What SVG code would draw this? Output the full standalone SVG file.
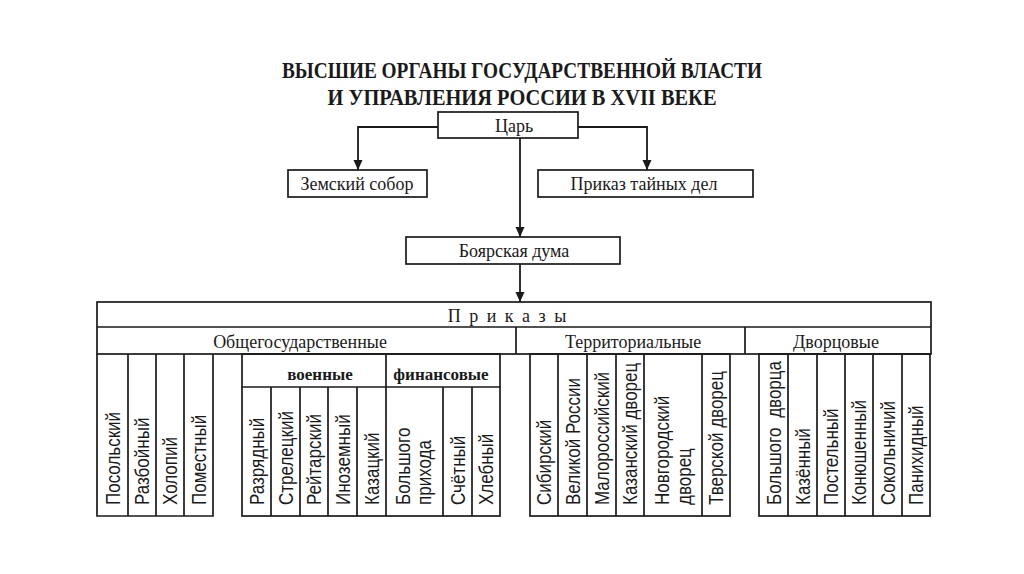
<svg xmlns="http://www.w3.org/2000/svg" width="1024" height="574" viewBox="0 0 1024 574">
<style>
.bx{fill:none;stroke:#1a1a1a;stroke-width:1.7}
.ln{fill:none;stroke:#1a1a1a;stroke-width:1.7}
.cn{fill:none;stroke:#1a1a1a;stroke-width:1.8}
.t{font-family:"Liberation Serif","Times New Roman",serif;font-size:18px;fill:#1a1a1a;text-anchor:middle}
.tb{font-family:"Liberation Serif","Times New Roman",serif;font-size:17px;font-weight:bold;fill:#1a1a1a;text-anchor:middle}
.ttl{font-family:"Liberation Serif","Times New Roman",serif;font-size:24px;font-weight:bold;fill:#1a1a1a;text-anchor:middle}
.v{font-family:"Liberation Sans",Arial,sans-serif;font-size:20px;fill:#1a1a1a;dominant-baseline:central}
</style>
<defs>
<marker id="arr" markerUnits="userSpaceOnUse" markerWidth="10" markerHeight="11" refX="10" refY="5" orient="auto" viewBox="0 0 10 10">
<path d="M0,0.5 L10,5 L0,9.5 Z" fill="#1a1a1a"/>
</marker>
</defs>
<rect width="1024" height="574" fill="#ffffff"/>

<g id="title">
<text class="ttl" x="522" y="78" textLength="480" lengthAdjust="spacingAndGlyphs">ВЫСШИЕ ОРГАНЫ ГОСУДАРСТВЕННОЙ ВЛАСТИ</text>
<text class="ttl" x="522" y="105" textLength="389" lengthAdjust="spacingAndGlyphs">И УПРАВЛЕНИЯ РОССИИ В XVII ВЕКЕ</text>
</g>

<g id="connectors">
<path class="cn" d="M438,127 H358 V170" marker-end="url(#arr)"/>
<path class="cn" d="M578,127 H647 V170" marker-end="url(#arr)"/>
<path class="cn" d="M520,138 V237" marker-end="url(#arr)"/>
<path class="cn" d="M520,264 V302" marker-end="url(#arr)"/>
</g>

<g id="tsar">
<rect class="bx" x="438" y="112" width="140" height="26"/>
<text class="t" x="514" y="132">Царь</text>
</g>
<g id="zemsky">
<rect class="bx" x="288" y="170" width="139" height="27"/>
<text class="t" x="357" y="190">Земский собор</text>
</g>
<g id="tainykh">
<rect class="bx" x="538" y="170" width="215" height="27"/>
<text class="t" x="644" y="190">Приказ тайных дел</text>
</g>
<g id="duma">
<rect class="bx" x="406" y="237" width="214" height="27"/>
<text class="t" x="514" y="257">Боярская дума</text>
</g>

<g id="prikazy">
<rect class="bx" x="97" y="302" width="834" height="52"/>
<path class="ln" d="M97,327 H931 M516,327 V354 M745,327 V354"/>
<text class="t" x="508" y="322" letter-spacing="2">П р и к а з ы</text>
<text class="t" x="300" y="348">Общегосударственные</text>
<text class="t" x="633" y="348">Территориальные</text>
<text class="t" x="836" y="348">Дворцовые</text>
</g>

<g id="obshche">
<path class="ln" d="M97,354 V516 H213 V354 M128,354 V516 M156,354 V516 M184,354 V516"/>
<text class="v" transform="translate(113,505) rotate(-90) scale(0.85,1)">Посольский</text>
<text class="v" transform="translate(142,505) rotate(-90) scale(0.85,1)">Разбойный</text>
<text class="v" transform="translate(170,505) rotate(-90) scale(0.85,1)">Холопий</text>
<text class="v" transform="translate(198.5,505) rotate(-90) scale(0.85,1)">Поместный</text>
</g>

<g id="voennye-finansovye">
<rect class="bx" x="242" y="354" width="258" height="162"/>
<path class="ln" d="M242,387 H500 M386,354 V516 M271,387 V516 M300,387 V516 M328,387 V516 M357,387 V516 M443,387 V516 M472,387 V516"/>
<text class="tb" x="320" y="380">военные</text>
<text class="tb" x="441" y="380">финансовые</text>
<text class="v" transform="translate(256.5,505) rotate(-90) scale(0.85,1)">Разрядный</text>
<text class="v" transform="translate(285.5,505) rotate(-90) scale(0.85,1)">Стрелецкий</text>
<text class="v" transform="translate(314,505) rotate(-90) scale(0.85,1)">Рейтарский</text>
<text class="v" transform="translate(342.5,505) rotate(-90) scale(0.85,1)">Иноземный</text>
<text class="v" transform="translate(371.5,505) rotate(-90) scale(0.85,1)">Казацкий</text>
<text class="v" transform="translate(403,505) rotate(-90) scale(0.85,1)">Большого</text>
<text class="v" transform="translate(424,505) rotate(-90) scale(0.85,1)">прихода</text>
<text class="v" transform="translate(457.5,505) rotate(-90) scale(0.85,1)">Счётный</text>
<text class="v" transform="translate(486,505) rotate(-90) scale(0.85,1)">Хлебный</text>
</g>

<g id="territorialnye">
<rect class="bx" x="530" y="354" width="200" height="162"/>
<path class="ln" d="M558,354 V516 M587,354 V516 M616,354 V516 M644,354 V516 M702,354 V516"/>
<text class="v" transform="translate(544,505) rotate(-90) scale(0.85,1)">Сибирский</text>
<text class="v" transform="translate(572.5,505) rotate(-90) scale(0.85,1)">Великой России</text>
<text class="v" transform="translate(601.5,505) rotate(-90) scale(0.85,1)">Малороссийский</text>
<text class="v" transform="translate(630,505) rotate(-90) scale(0.85,1)">Казанский дворец</text>
<text class="v" transform="translate(662,505) rotate(-90) scale(0.85,1)">Новгородский</text>
<text class="v" transform="translate(684,505) rotate(-90) scale(0.85,1)">дворец</text>
<text class="v" transform="translate(716,505) rotate(-90) scale(0.85,1)">Тверской дворец</text>
</g>

<g id="dvortsovye">
<rect class="bx" x="759" y="354" width="171" height="162"/>
<path class="ln" d="M788,354 V516 M817,354 V516 M845,354 V516 M873,354 V516 M902,354 V516"/>
<text class="v" transform="translate(773.5,505) rotate(-90) scale(0.85,1)" word-spacing="6">Большого дворца</text>
<text class="v" transform="translate(802.5,505) rotate(-90) scale(0.85,1)">Казённый</text>
<text class="v" transform="translate(831,505) rotate(-90) scale(0.85,1)">Постельный</text>
<text class="v" transform="translate(859,505) rotate(-90) scale(0.85,1)">Конюшенный</text>
<text class="v" transform="translate(887.5,505) rotate(-90) scale(0.85,1)">Сокольничий</text>
<text class="v" transform="translate(916,505) rotate(-90) scale(0.85,1)">Панихидный</text>
</g>
</svg>
